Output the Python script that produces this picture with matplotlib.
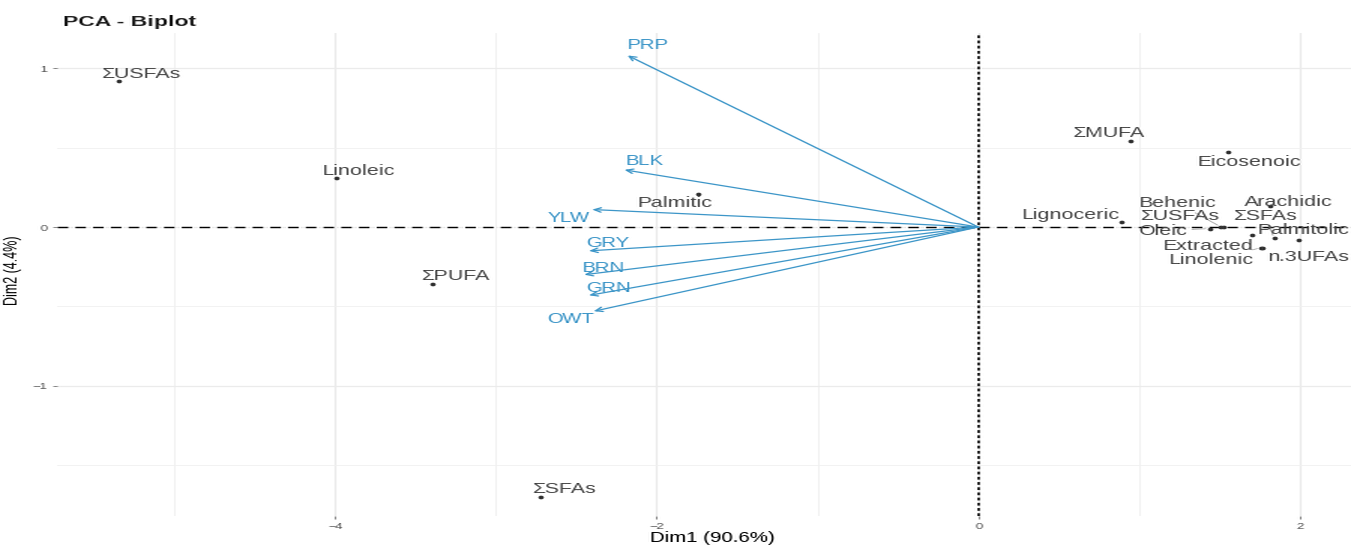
import numpy as np
import matplotlib
matplotlib.use("Agg")
import matplotlib.pyplot as plt
from PIL import Image

plt.rcParams['font.family'] = ['Liberation Sans', 'DejaVu Sans']

# individuals (fatty acids) on the first two dimensions
ind_names = ["ΣUSFAs", "Linoleic", "ΣPUFA", "ΣSFAs", "Palmitic", "ΣMUFA",
             "Eicosenoic", "Lignoceric", "Arachidic", "Behenic", "ΣUSFAs",
             "Oleic", "ΣSFAs", "Extracted", "Linolenic", "n.3UFAs", "Palmitolic"]
ind_dim1 = [-5.35, -3.99, -3.39, -2.72, -1.74, 0.95, 1.55, 0.89, 1.81, 1.51,
            1.52, 1.44, 1.84, 1.70, 1.76, 1.77, 1.99]
ind_dim2 = [0.92, 0.31, -0.36, -1.70, 0.21, 0.54, 0.47, 0.03, 0.13, 0.00,
            0.00, -0.01, -0.07, -0.05, -0.13, -0.13, -0.08]

# variables (colours)
var_names = ["PRP", "BLK", "YLW", "GRY", "BRN", "GRN", "OWT"]
var_dim1 = [-2.18, -2.20, -2.40, -2.42, -2.45, -2.42, -2.39]
var_dim2 = [1.08, 0.36, 0.11, -0.15, -0.30, -0.43, -0.53]

# label placement (pixel offsets from the point) and leader line flag
ind_offsets = [(15, 7), (15, 7), (15, 8), (15, 8), (-15, -9), (-15, 8),
               (15, -10), (-33, 7), (13, 4), (-29, 24), (-29, 11),
               (-31, -2), (-6, 22), (-29, -11), (-33, -12), (30, -9), (4, 10)]
ind_leader = ["Behenic", "Oleic", "Linolenic"]
var_offsets = [(14, 10), (14, 9), (-16, -8), (13, 8), (13, 7), (13, 7), (-15, -8)]

blue = "#3d96c8"
label_grey = "#484848"

# draw at 900 px wide, then widen to 1351 px
fig = plt.figure(figsize=(9.0, 5.45), dpi=100)
ax = fig.add_axes([0.042, 0.053, 0.963, 0.886])

ax.set_xlim(-5.73, 2.36)
ax.set_ylim(-1.82, 1.22)
ax.set_xticks([-4, -2, 0, 2])
ax.set_xticks([-5, -3, -1, 1], minor=True)
ax.set_yticks([-1, 0, 1])
ax.set_yticks([-1.5, -0.5, 0.5], minor=True)
ax.grid(which='major', color='#ebebeb', lw=0.9)
ax.grid(which='minor', color='#f0f0f0', lw=0.6)
ax.set_axisbelow(True)
for s in ax.spines.values():
    s.set_visible(False)
ax.tick_params(which='major', length=2.5, width=0.6, color='#777777',
               labelsize=6.5, labelcolor='#555555', pad=2)
ax.tick_params(which='minor', length=0)

ax.axhline(0, color='black', lw=1.0, linestyle=(0, (5, 3.5)), zorder=1)
ax.axvline(0, color='black', lw=1.1, linestyle=(0, (1.8, 1.6)), zorder=1)

# variable arrows
for name, x, y, off in zip(var_names, var_dim1, var_dim2, var_offsets):
    ax.annotate('', xy=(x, y), xytext=(0, 0),
                arrowprops=dict(arrowstyle='->', color=blue, lw=0.9,
                                shrinkA=0, shrinkB=0, mutation_scale=8))
    ax.annotate(name, xy=(x, y), xytext=off, textcoords='offset pixels',
                ha='center', va='center', color=blue, fontsize=9.8)

# individuals
ax.scatter(ind_dim1, ind_dim2, s=7, color='#333333', zorder=3, linewidths=0)
for name, x, y, off in zip(ind_names, ind_dim1, ind_dim2, ind_offsets):
    props = None
    if name in ind_leader or (name == "ΣSFAs" and x > 0):
        props = dict(arrowstyle='-', color='#999999', lw=0.5,
                     shrinkA=0, shrinkB=2)
    ax.annotate(name, xy=(x, y), xytext=off, textcoords='offset pixels',
                ha='center', va='center', color=label_grey, fontsize=10.3,
                arrowprops=props)

ax.set_xlabel("Dim1 (90.6%)", fontsize=9.8)
ax.xaxis.set_label_coords(0.504, -0.031)
ax.set_ylabel("Dim2 (4.4%)", fontsize=9)
ax.yaxis.set_label_coords(-0.026, 0.51)

fig.text(0.047, 0.96, "PCA - Biplot", fontsize=11, fontweight='bold',
         ha='left', va='center', color='#222222')

fig.canvas.draw()
img = np.asarray(fig.canvas.buffer_rgba())
Image.fromarray(img).convert('RGB').resize((1351, 545), Image.LANCZOS).save('out.png')
